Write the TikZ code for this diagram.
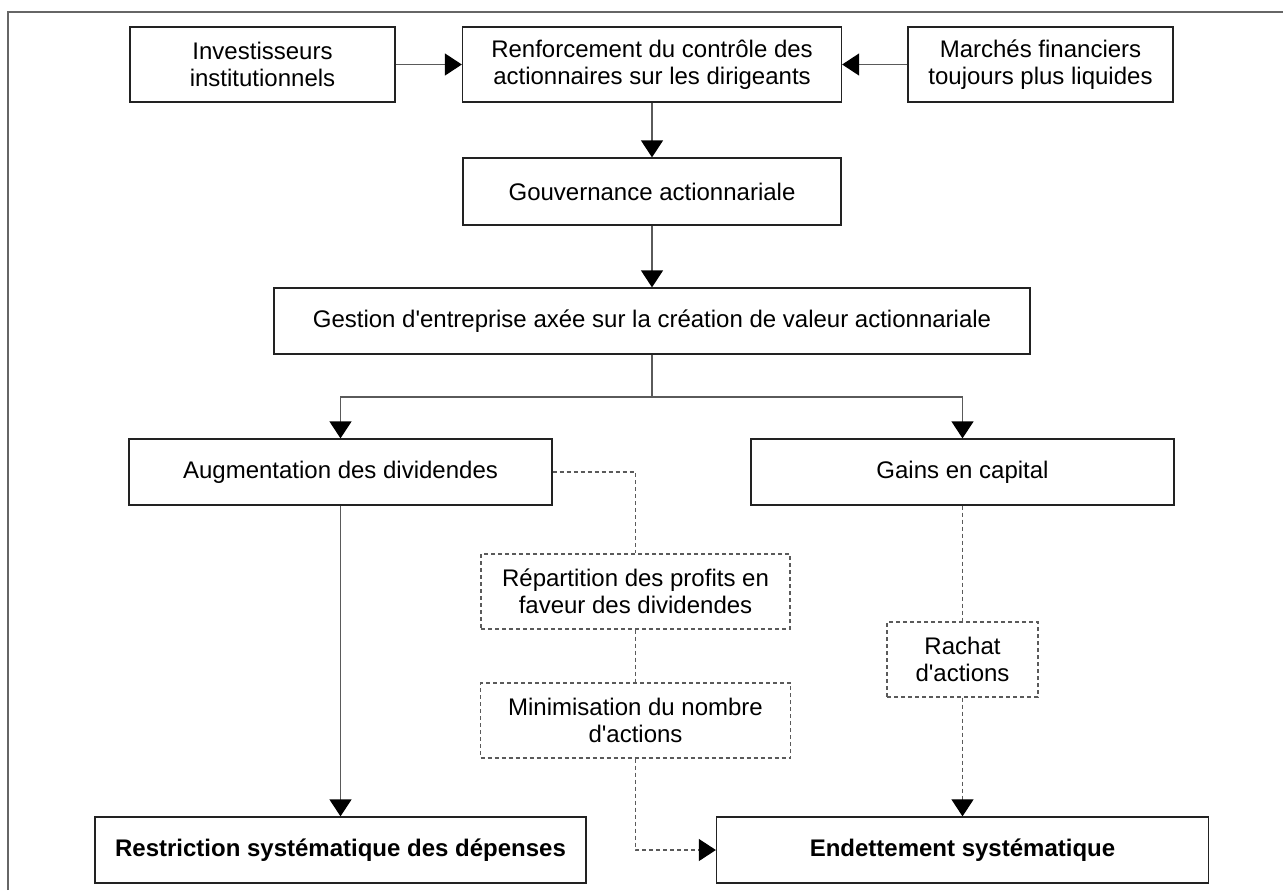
\documentclass[tikz,border=0pt]{standalone}
\usepackage{fontspec}
\setmainfont{Liberation Sans}[Ligatures=TeXOff]
\usetikzlibrary{arrows.meta}
\definecolor{linec}{HTML}{5A5A5A}
\definecolor{boxc}{HTML}{222222}
\definecolor{framec}{HTML}{666666}
\tikzset{
  box/.style={draw=boxc, line width=0.65pt, align=center, inner sep=0pt, font=\fontsize{12}{13.5}\selectfont},
  dbox/.style={box, draw=linec, dash pattern=on 2pt off 1.5pt, line width=0.55pt},
  tip/.style={-{Triangle[length=8.5pt,width=11pt,color=black,fill=black]}},
  conn/.style={draw=linec, line width=0.65pt},
  arr/.style={conn, tip},
  dconn/.style={draw=linec, dash pattern=on 2pt off 1.5pt, line width=0.55pt},
  darr/.style={dconn, tip},
  toprow/.style={box, minimum height=37.5pt},
  midbox/.style={box, minimum height=33pt},
}
\begin{document}
\begin{tikzpicture}[x=0.5pt,y=-0.5pt]
\useasboundingbox (0,0) rectangle (1283,890);
\draw[draw=framec, line width=0.6pt] (8,890) -- (8,12) -- (1283,12);

\node[toprow, minimum width=132.5pt] (inv) at (262.5,64.5) {Investisseurs\\institutionnels};
\node[toprow, minimum width=189.5pt] (renf) at (652,64.5) {Renforcement du contrôle des\\actionnaires sur les dirigeants};
\node[toprow, minimum width=132.5pt] (march) at (1040.5,64.5) {Marchés financiers\\toujours plus liquides};
\node[box, minimum width=189pt, minimum height=33.5pt] (gouv) at (652,191.5) {Gouvernance actionnariale};
\node[midbox, minimum width=378pt] (gest) at (652,321) {Gestion d'entreprise axée sur la création de valeur actionnariale};
\node[midbox, minimum width=211.5pt] (aug) at (340.5,472) {Augmentation des dividendes};
\node[midbox, minimum width=211.5pt] (gains) at (962.5,472) {Gains en capital};
\node[dbox, minimum width=154.5pt, minimum height=37.5pt] (rep) at (635.5,591.5) {Répartition des profits en\\faveur des dividendes};
\node[dbox, minimum width=155pt, minimum height=37.5pt] (mini) at (635.5,720.5) {Minimisation du nombre\\d'actions};
\node[dbox, minimum width=75.5pt, minimum height=37.5pt] (rach) at (962.5,659.5) {Rachat\\d'actions};
\node[midbox, minimum width=245.5pt] (restr) at (340.5,850) {\textbf{Restriction systématique des dépenses}};
\node[midbox, minimum width=246pt] (endet) at (962.5,850) {\textbf{Endettement systématique}};

\draw[arr] (inv.east) -- (renf.west);
\draw[arr] (march.west) -- (renf.east);
\draw[arr] (renf.south) -- (gouv.north);
\draw[arr] (gouv.south) -- (gest.north);
\coordinate (split) at (652,397);
\draw[conn] (gest.south) -- (split);
\draw[arr] (split) -| (aug.north);
\draw[arr] (split) -| (gains.north);
\draw[arr] (aug.south) -- (restr.north);
\draw[dconn] (aug.east) -| (rep.north);
\draw[dconn] (rep.south) -- (mini.north);
\draw[darr] (mini.south) |- (endet.west);
\draw[dconn] (gains.south) -- (rach.north);
\draw[darr] (rach.south) -- (endet.north);
\end{tikzpicture}
\end{document}
